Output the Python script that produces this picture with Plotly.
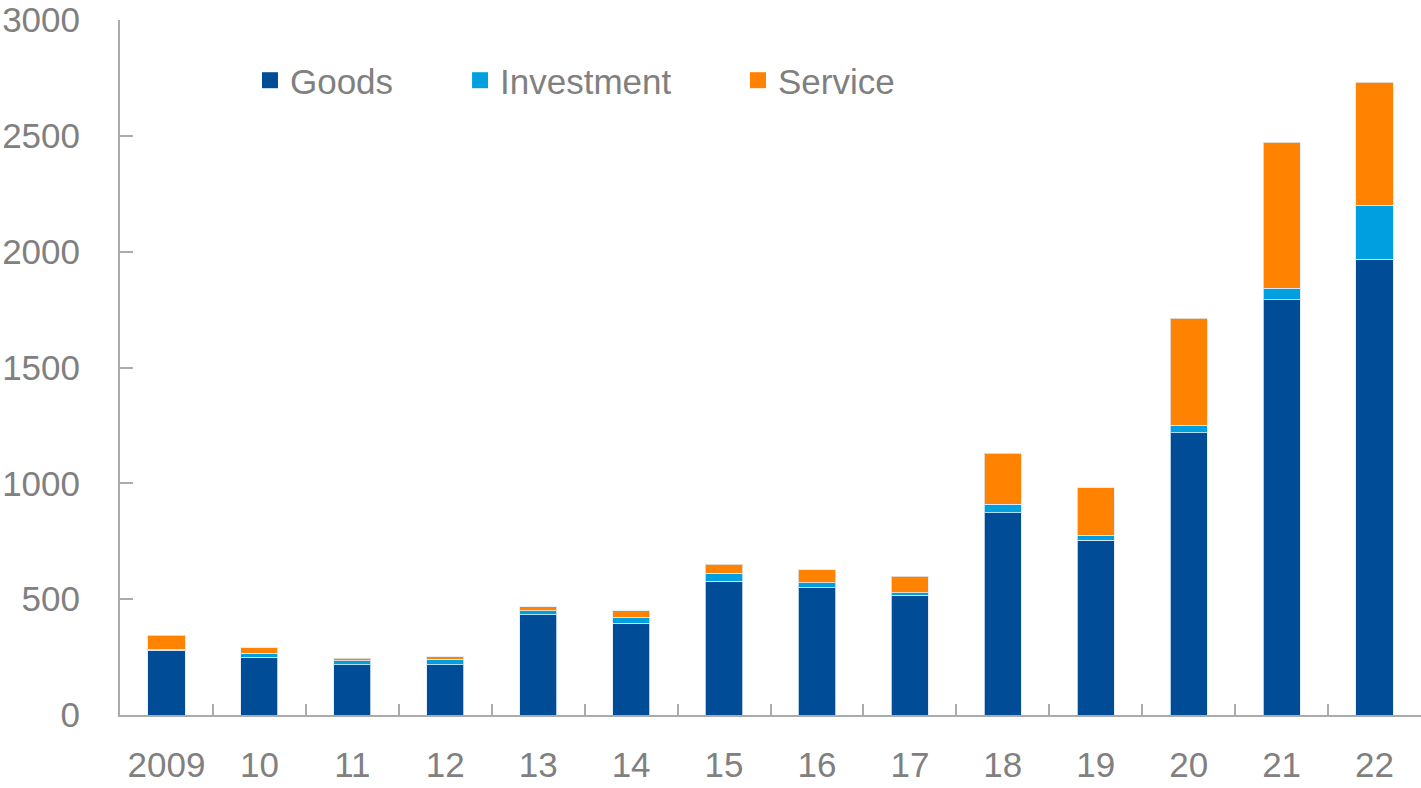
import plotly.graph_objects as go

years = ["2009", "10", "11", "12", "13", "14", "15", "16", "17", "18", "19", "20", "21", "22"]
goods = [280, 250, 217, 217, 433, 396, 578, 549, 516, 874, 754, 1218, 1793, 1968]
investment = [4, 16, 17, 23, 17, 27, 33, 22, 12, 35, 23, 33, 49, 232]
service = [61, 24, 12, 11, 17, 27, 39, 56, 72, 220, 204, 462, 630, 531]

series = [("Goods", goods, "#004C97", "legend", 0.0999),
          ("Investment", investment, "#009FDF", "legend2", 0.2614),
          ("Service", service, "#FF8200", "legend3", 0.475)]

font_family = "Liberation Sans, Arial, sans-serif"
gray = "#808080"
axis_gray = "#ABABAB"

fig = go.Figure()
for name, vals, col, lg, lx in series:
    fig.add_trace(go.Bar(
        x=years, y=vals, name=name, showlegend=False, legendgroup=name,
        marker=dict(color=col, line=dict(color="rgba(220,235,250,0.8)", width=1)),
    ))
for name, vals, col, lg, lx in series:
    fig.add_trace(go.Scatter(
        x=[None], y=[None], name=name, mode="markers", legend=lg, legendgroup=name,
        marker=dict(symbol="square", size=22, color=col),
    ))

legend_common = dict(
    orientation="h", y=0.913, xanchor="left", yanchor="middle",
    font=dict(size=35, color=gray), bgcolor="rgba(0,0,0,0)",
    itemsizing="trace", itemclick=False, itemdoubleclick=False,
)

fig.update_layout(
    barmode="stack",
    bargap=0.6,
    width=1421, height=788,
    margin=dict(l=120, r=0, t=20, b=73),
    paper_bgcolor="white", plot_bgcolor="white",
    font=dict(family=font_family, color=gray, size=36),
    showlegend=True,
    legend=dict(x=series[0][4], **legend_common),
    legend2=dict(x=series[1][4], **legend_common),
    legend3=dict(x=series[2][4], **legend_common),
    xaxis=dict(
        type="category", showline=True, linecolor=axis_gray, linewidth=2,
        ticks="inside", tickson="boundaries", ticklen=11, tickwidth=2, tickcolor=axis_gray,
        showgrid=False, tickfont=dict(size=35, color=gray), tickangle=0,
        automargin=False, ticklabelstandoff=18,
    ),
    yaxis=dict(
        range=[0, 3000], dtick=500, showline=True, linecolor=axis_gray, linewidth=2,
        ticks="inside", ticklen=13, tickwidth=2, tickcolor=axis_gray,
        showgrid=False, zeroline=False, tickfont=dict(size=35, color=gray),
        ticklabelstandoff=31, automargin=False, ticklabeloverflow="allow",
    ),
)

fig.write_html("out.html")
